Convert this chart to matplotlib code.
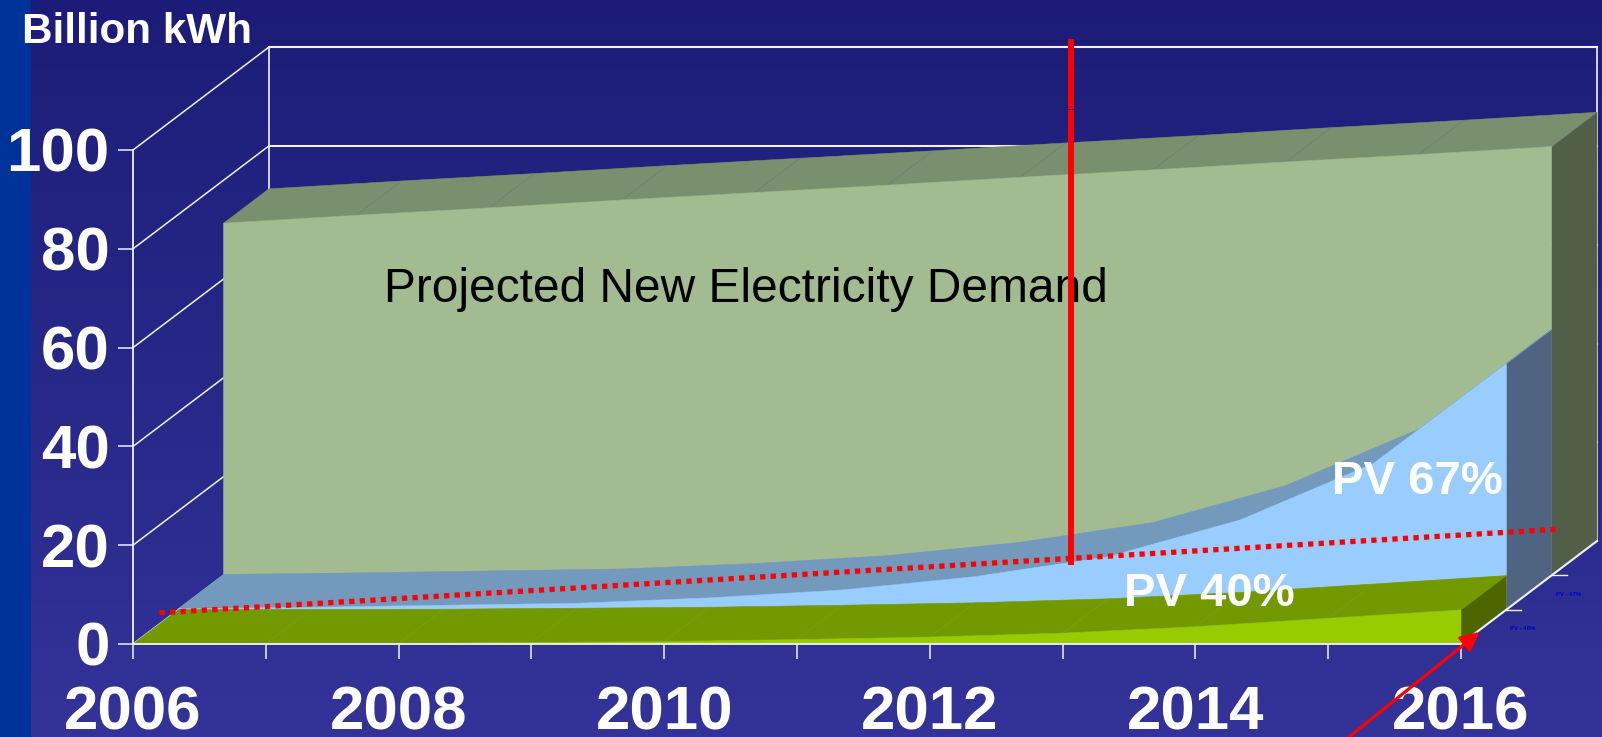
import numpy as np
import matplotlib
matplotlib.use("Agg")
import matplotlib.pyplot as plt
from matplotlib.colors import LinearSegmentedColormap

plt.rcParams['font.family'] = ['Liberation Sans', 'DejaVu Sans']

years = [2006, 2007, 2008, 2009, 2010, 2011, 2012, 2013, 2014, 2015, 2016]
demand = [71.3, 72.9, 74.4, 76.0, 77.5, 79.0, 80.6, 82.1, 83.7, 85.2, 86.8]
pv67 = [0.2, 0.5, 0.9, 1.3, 2.4, 4.0, 6.7, 10.7, 18.2, 29.6, 49.8]
pv40 = [0.0, 0.05, 0.1, 0.3, 0.5, 0.9, 1.4, 2.2, 3.5, 5.2, 6.9]
y_ticks = [0, 20, 40, 60, 80, 100]
x_labels = ['2006', '', '2008', '', '2010', '', '2012', '', '2014', '', '2016']

W, H = 1602, 737
PX_YEAR, PX_UNIT = 132.8, 4.94
X0, Y0 = 133, 644
DX, DY = 45.3 / PX_YEAR, 34.3 / PX_UNIT   # one layer of depth in data units

fig = plt.figure(figsize=(W / 100, H / 100), dpi=100)
ax = fig.add_axes([0, 0, 1, 1])
XLIM = (2006 - X0 / PX_YEAR, 2006 + (W - X0) / PX_YEAR)
YLIM = (-(H - Y0) / PX_UNIT, Y0 / PX_UNIT)

# background
cmap = LinearSegmentedColormap.from_list('bg', ['#1c1c78', '#333399'])
ax.imshow(np.linspace(0, 1, 256)[:, None], cmap=cmap, aspect='auto',
          extent=[0, 1, 0, 1], transform=ax.transAxes, origin='upper', zorder=0)
ax.set_xlim(*XLIM)
ax.set_ylim(*YLIM)
ax.axvspan(XLIM[0], 2006 - (X0 - 31) / PX_YEAR, color='#003399', lw=0, zorder=0.5)


def proj(x, v, d):
    return (np.asarray(x, float) + np.asarray(d, float) * DX,
            np.asarray(v, float) + np.asarray(d, float) * DY)


WHITE = '#f0f0f5'
# walls
for t in y_ticks:
    ax.plot(*proj([2006, 2006], [t, t], [0, 3]), color=WHITE, lw=1.1, zorder=1)
    ax.plot(*proj([2006, 2016], [t, t], [3, 3]), color=WHITE, lw=1.5, zorder=1)
ax.plot(*proj([2006, 2006], [0, 100], [3, 3]), color=WHITE, lw=1.2, zorder=1)
ax.plot(*proj([2016, 2016], [0, 100], [3, 3]), color=WHITE, lw=1.2, zorder=1)
ax.plot(*proj([2016, 2016], [0, 0], [0, 3]), color=WHITE, lw=1.5, zorder=8)


def layer(vals, d, front, top, side, seam, z):
    x = np.array(years, float)
    v = np.array(vals, float)
    fx, fy = proj(x, v, d)
    bx, by = proj(x, v, d + 1)
    ax.fill(*proj([2016, 2016, 2016, 2016], [0, v[-1], v[-1], 0], [d, d, d + 1, d + 1]),
            color=side, lw=0.4, zorder=z)
    ax.fill(np.r_[fx, bx[::-1]], np.r_[fy, by[::-1]], color=top, lw=0.4, zorder=z)
    for i in range(1, len(x) - 1):
        ax.plot([fx[i], bx[i]], [fy[i], by[i]], color=seam, lw=0.5, zorder=z + 0.1)
    ox, oy = proj(x, np.zeros_like(v), d)
    ax.fill(np.r_[fx, ox[::-1]], np.r_[fy, oy[::-1]], color=front, lw=0.4, zorder=z + 0.2)


layer(demand, 2, '#a2bb90', '#7a8f6d', '#515e48', '#6d7d80', 2)
layer(pv67, 1, '#99ccff', '#7399bd', '#4f6480', '#7f9fa8', 3)
layer(pv40, 0, '#99cc00', '#739900', '#4d6600', '#7d9c1c', 4)

# floor ticks and the tiny series labels
for d, name in [(1, 'PV - 40%'), (2, 'PV - 67%')]:
    ax.plot([2016 + d * DX, 2016 + d * DX + 15 / PX_YEAR], [d * DY, d * DY], color=WHITE, lw=1, zorder=8)
    ax.text(2016 + d * DX + 4 / PX_YEAR, d * DY - 19 / PX_UNIT, name, color='#0000cc',
            fontsize=4.3, fontweight='bold', va='center', ha='left', zorder=8)

# axes
for s in ['top', 'right']:
    ax.spines[s].set_visible(False)
ax.spines['left'].set_position(('data', 2006))
ax.spines['bottom'].set_position(('data', 0))
ax.spines['left'].set_bounds(0, 100)
ax.spines['bottom'].set_bounds(2006, 2016)
for s in ['left', 'bottom']:
    ax.spines[s].set_color(WHITE)
    ax.spines[s].set_linewidth(1.3)
    ax.spines[s].set_zorder(7)
ax.set_xticks(years)
ax.set_xticklabels(x_labels)
ax.set_yticks(y_ticks)
ax.tick_params(axis='both', direction='out', length=10.8, width=1.1, color=WHITE,
               labelcolor='white', labelsize=44.6)
ax.tick_params(axis='x', pad=19)
ax.tick_params(axis='y', pad=6)
for lab in ax.get_xticklabels() + ax.get_yticklabels():
    lab.set_fontweight('bold')

# texts
ax.text(XLIM[0] + 22 / PX_YEAR, (Y0 - 32) / PX_UNIT, 'Billion kWh', color='white',
        fontsize=30.4, fontweight='bold', ha='left', va='center', zorder=9)
ax.text(2006 + (384 - X0) / PX_YEAR, (Y0 - 290) / PX_UNIT, 'Projected New Electricity Demand',
        color='black', fontsize=34.5, ha='left', va='center', zorder=9)
ax.text(2006 + (1332 - X0) / PX_YEAR, (Y0 - 482) / PX_UNIT, 'PV 67%', color='white',
        fontsize=34, fontweight='bold', ha='left', va='center', zorder=9)
ax.text(2006 + (1124 - X0) / PX_YEAR, (Y0 - 594) / PX_UNIT, 'PV 40%', color='white',
        fontsize=34, fontweight='bold', ha='left', va='center', zorder=9)

# red annotations
xv = 2006 + (1071 - X0) / PX_YEAR
ax.plot([xv, xv], [16.0, 108.0], color='#ff0000', lw=4.3, solid_capstyle='butt', zorder=10)
ax.plot([xv, xv], [108.3, 122.5], color='#ff0000', lw=4.3, solid_capstyle='butt', zorder=10)
ax.plot([2006.2, 2016.71], [6.3, 23.2], color='#ff0000', lw=3.8,
        linestyle=(0, (1.0, 1.0)), dash_capstyle='butt', zorder=10)
ax.annotate('', xy=(2016.14, 2.43), xytext=(2015.13, -19.4), annotation_clip=False,
            arrowprops=dict(arrowstyle='-|>', color='#ff0000', lw=2.3, mutation_scale=28,
                            shrinkA=0, shrinkB=0), zorder=10)

fig.savefig('out.png', dpi=100)
